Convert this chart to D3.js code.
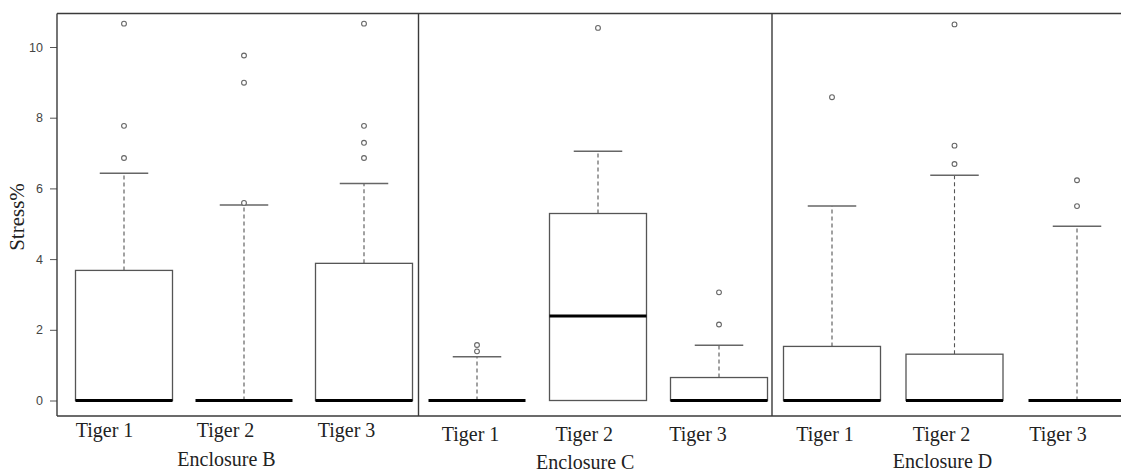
<!DOCTYPE html>
<html lang="en">
<head>
<meta charset="utf-8">
<title>Stress% by tiger and enclosure</title>
<script src="https://d3js.org/d3.v7.min.js"></script>
<style>
  body { margin: 0; background: #fff; }
  svg text.serif { font-family: "Liberation Serif", "Times New Roman", serif; fill: #222; }
</style>
</head>
<body>
<script>
// data (Stress%, boxplot stats per tiger)
var enclosures = ["Enclosure B", "Enclosure C", "Enclosure D"];
var tigers = ["Tiger 1", "Tiger 2", "Tiger 3"];
var yTicks = [0, 2, 4, 6, 8, 10];

// rows = enclosure, cols = tiger
var q1Vals      = [[0, 0, 0], [0, 0, 0], [0, 0, 0]];
var medianVals  = [[0, 0, 0], [0, 2.39, 0], [0, 0, 0]];
var q3Vals      = [[3.68, 0, 3.88], [0, 5.29, 0.65], [1.53, 1.31, 0]];
var lowVals     = [[0, 0, 0], [0, 0, 0], [0, 0, 0]];
var highVals    = [[6.43, 5.53, 6.14], [1.24, 7.05, 1.56], [5.5, 6.37, 4.93]];
var outlierVals = [
    [[6.86, 7.77, 10.66], [5.59, 8.99, 9.76], [6.86, 7.29, 7.77, 10.66]],
    [[1.39, 1.57], [10.54], [2.15, 3.06]],
    [[8.58], [6.69, 7.21, 10.64], [5.5, 6.23]]
];

var width = 1121, height = 472;
var panelEdges = [57, 418.5, 772, 1130];
var boxSpan = [[124, 364], [477, 719], [832, 1077]];
var labelSpan = [[104.5, 346.5], [470.5, 698], [825, 1058]];
var labelY = [437, 441, 441];
var enclY = [466, 469, 468];
var boxW = 97;

var svg = d3.select("body").append("svg")
    .attr("width", width)
    .attr("height", height);

var y = d3.scaleLinear().domain([0, 10]).range([400.5, 47]);

// y axis
var yAxis = svg.append("g")
    .attr("transform", "translate(57,0)")
    .call(d3.axisLeft(y).tickValues(yTicks).tickSize(7).tickPadding(7));
yAxis.select(".domain").remove();
yAxis.selectAll("line").attr("stroke", "#555");
yAxis.selectAll("text")
    .attr("fill", "#444")
    .style("font-family", "'Liberation Sans', Arial, sans-serif")
    .style("font-size", "12.5px");

svg.append("text")
    .attr("class", "serif")
    .attr("transform", "translate(24,217) rotate(-90)")
    .attr("text-anchor", "middle")
    .style("font-size", "21px")
    .text("Stress%");

// frame
var frame = svg.append("g").attr("stroke", "#3a3a3a").attr("stroke-width", 1.4).attr("fill", "none");
frame.append("line").attr("x1", 57).attr("x2", width).attr("y1", 13.5).attr("y2", 13.5);
frame.append("line").attr("x1", 57).attr("x2", width).attr("y1", 416).attr("y2", 416);
panelEdges.slice(0, 3).forEach(function (px) {
    frame.append("line").attr("x1", px).attr("x2", px).attr("y1", 13.5).attr("y2", 416);
});

enclosures.forEach(function (enc, e) {
    var x = d3.scalePoint().domain(tigers).range(boxSpan[e]);
    var xl = d3.scalePoint().domain(tigers).range(labelSpan[e]);
    var g = svg.append("g");

    var rows = tigers.map(function (t, i) {
        return {
            tiger: t,
            q1: q1Vals[e][i], med: medianVals[e][i], q3: q3Vals[e][i],
            lo: lowVals[e][i], hi: highVals[e][i], out: outlierVals[e][i]
        };
    });

    var box = g.selectAll("g.box").data(rows).join("g").attr("class", "box");

    // whisker (dashed)
    box.append("line")
        .attr("x1", d => x(d.tiger)).attr("x2", d => x(d.tiger))
        .attr("y1", d => y(d.q3)).attr("y2", d => y(d.hi))
        .attr("stroke", "#555").attr("stroke-width", 1.1)
        .attr("stroke-dasharray", "4,3");
    // cap
    box.append("line")
        .attr("x1", d => x(d.tiger) - boxW / 4).attr("x2", d => x(d.tiger) + boxW / 4)
        .attr("y1", d => y(d.hi)).attr("y2", d => y(d.hi))
        .attr("stroke", "#666").attr("stroke-width", 1.5);
    // box
    box.append("rect")
        .attr("x", d => x(d.tiger) - boxW / 2)
        .attr("y", d => y(d.q3))
        .attr("width", boxW)
        .attr("height", d => y(d.q1) - y(d.q3))
        .attr("fill", "#fff")
        .attr("stroke", "#555").attr("stroke-width", 1.3);
    // median
    box.append("line")
        .attr("x1", d => x(d.tiger) - boxW / 2).attr("x2", d => x(d.tiger) + boxW / 2)
        .attr("y1", d => y(d.med)).attr("y2", d => y(d.med))
        .attr("stroke", "#000").attr("stroke-width", 3);
    // outliers
    box.selectAll("circle")
        .data(d => d.out.map(v => ({tiger: d.tiger, v: v})))
        .join("circle")
        .attr("cx", d => x(d.tiger))
        .attr("cy", d => y(d.v))
        .attr("r", 2.4)
        .attr("fill", "#fff")
        .attr("stroke", "#666").attr("stroke-width", 1.1);

    // labels
    g.selectAll("text.tlab").data(tigers).join("text")
        .attr("class", "serif tlab")
        .attr("x", d => xl(d))
        .attr("y", labelY[e])
        .attr("text-anchor", "middle")
        .style("font-size", "20px")
        .text(d => d);

    g.append("text")
        .attr("class", "serif")
        .attr("x", d3.mean(labelSpan[e]) + 1)
        .attr("y", enclY[e])
        .attr("text-anchor", "middle")
        .style("font-size", "20px")
        .text(enc);
});
</script>
</body>
</html>
